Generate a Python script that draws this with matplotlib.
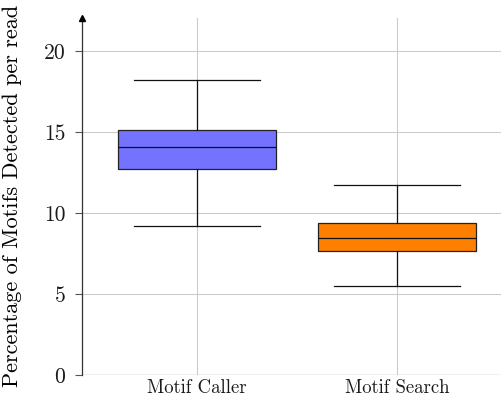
import matplotlib
matplotlib.use("Agg")
import matplotlib.pyplot as plt

categories = ["Motif Caller", "Motif Search"]
whislo = [9.2, 5.49]
q1 = [12.72, 7.65]
med = [14.07, 8.46]
q3 = [15.12, 9.38]
whishi = [18.2, 11.73]
colors = ["#7373FF", "#FF8000"]
yticks = [0, 5, 10, 15, 20]

plt.rcParams['font.family'] = ['cmr10', 'DejaVu Serif']
plt.rcParams['axes.formatter.use_mathtext'] = True
plt.rcParams['text.color'] = '#1a1a1a'
plt.rcParams['xtick.labelcolor'] = '#1a1a1a'
plt.rcParams['ytick.labelcolor'] = '#1a1a1a'

fig = plt.figure(figsize=(5.02, 3.97), dpi=100)
ax = fig.add_axes([82/502, 1-375/397, 1-82/502, (375-18)/397])

stats = []
for i, c in enumerate(categories):
    stats.append(dict(label=c, whislo=whislo[i], q1=q1[i], med=med[i], q3=q3[i], whishi=whishi[i], fliers=[]))

bp = ax.bxp(stats, positions=[1, 2], widths=0.79, patch_artist=True, showfliers=False,
            boxprops=dict(linewidth=0.9, edgecolor='#222222'),
            medianprops=dict(color='#111111', linewidth=0.9),
            whiskerprops=dict(color='#111111', linewidth=0.9),
            capprops=dict(color='#111111', linewidth=0.9),
            capwidths=0.635, zorder=3)
for p, col in zip(bp['boxes'], colors):
    p.set_facecolor(col)

ax.set_xlim(0.425, 2.525)
ax.set_ylim(0, 22.04)
ax.set_yticks(yticks)
ax.set_yticklabels([str(t) for t in yticks], fontsize=15.5)
ax.set_xticks([1, 2])
ax.set_xticklabels(categories, fontsize=13.5)
ax.tick_params(axis='x', length=0, pad=3)
ax.tick_params(axis='y', length=5, width=0.8, color='#555555', pad=7)

ax.grid(True, color='#cccccc', linewidth=0.8, zorder=0)
ax.set_axisbelow(True)
for s in ['top', 'right', 'bottom']:
    ax.spines[s].set_visible(False)
ax.spines['left'].set_color('#333333')
ax.spines['left'].set_linewidth(0.9)
ax.axhline(0, color='#aaaaaa', linewidth=0.9, zorder=1)
ax.plot(0, 1, marker='^', color='black', markersize=4, transform=ax.transAxes, clip_on=False, zorder=5)

ax.set_ylabel("Percentage of Motifs Detected per read", fontsize=16)
ax.yaxis.set_label_coords(-(82 - 22) / (502 - 82), (375 - 196) / (375 - 18))

fig.savefig("out.png", dpi=100)
